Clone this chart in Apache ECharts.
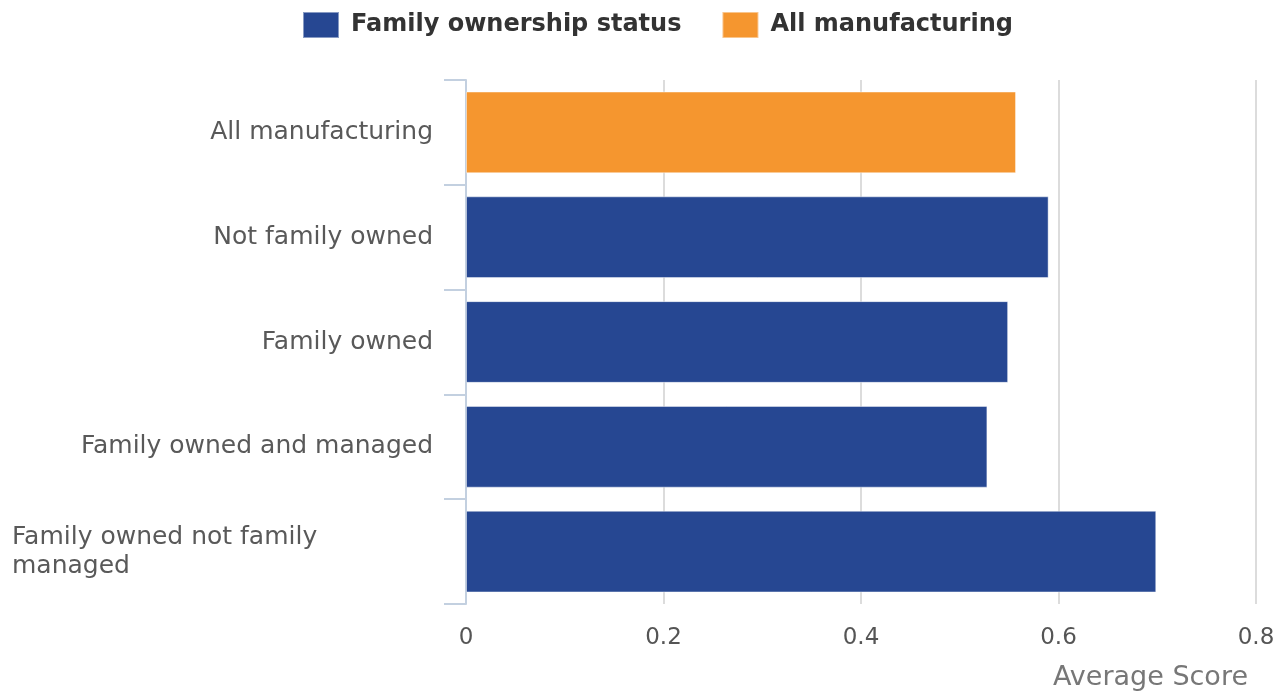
<!DOCTYPE html>
<html>
<head>
<meta charset="utf-8">
<script src="https://cdn.jsdelivr.net/npm/echarts@6/dist/echarts.min.js"></script>
<style>
  html, body { margin: 0; padding: 0; background: #ffffff; }
  #chart { width: 1284px; height: 693px; }
</style>
</head>
<body>
<div id="chart"></div>
<script>
// Categories, top to bottom
const categories = [
  'All manufacturing',
  'Not family owned',
  'Family owned',
  'Family owned and managed',
  'Family owned not family managed'
];
// Average score per category; the benchmark row is drawn in its own series
const ownershipValues = [null, 0.59, 0.549, 0.528, 0.699];
const benchmarkValues = [0.557, null, null, null, null];
const xTicks = [0, 0.2, 0.4, 0.6, 0.8];
const seriesNames = ['Family ownership status', 'All manufacturing'];
const axisTitle = 'Average Score';

const FONT = 'DejaVu Sans';
const BLUE = '#264792';
const ORANGE = '#f5962f';

// Break long category names onto two lines at a word boundary
function wrap(text, maxChars) {
  if (text.length <= maxChars) return null;
  const words = text.split(' ');
  let line = '';
  const lines = [];
  words.forEach(function (w) {
    if ((line + ' ' + w).trim().length > maxChars) {
      lines.push(line.trim());
      line = w;
    } else {
      line = (line + ' ' + w).trim();
    }
  });
  lines.push(line);
  return lines.join('\n');
}

const chart = echarts.init(document.getElementById('chart'), null, { renderer: 'canvas' });

chart.setOption({
  animation: false,
  backgroundColor: '#ffffff',
  legend: {
    top: 11,
    left: 302,
    padding: 0,
    itemWidth: 36,
    itemHeight: 26,
    itemGap: 40,
    icon: 'rect',
    textStyle: {
      fontFamily: FONT,
      fontSize: 24,
      fontWeight: 'bold',
      color: '#333333',
      padding: [0, 0, 0, 7]
    },
    data: seriesNames
  },
  grid: {
    left: 466,
    right: 28,
    top: 80,
    bottom: 89,
    containLabel: false
  },
  xAxis: {
    type: 'value',
    min: xTicks[0],
    max: xTicks[xTicks.length - 1],
    interval: xTicks[1] - xTicks[0],
    name: axisTitle,
    nameLocation: 'end',
    nameGap: 0,
    nameTextStyle: {
      fontFamily: FONT,
      fontSize: 27,
      color: '#777777',
      align: 'right',
      verticalAlign: 'top',
      padding: [60, 8, 0, 0]
    },
    axisLine: { show: false },
    axisTick: { show: false },
    axisLabel: {
      fontFamily: FONT,
      fontSize: 23,
      color: '#555555',
      margin: 23,
      formatter: function (v) { return String(+v.toFixed(1)); }
    },
    splitLine: {
      show: true,
      lineStyle: {
        color: ['#7a7a7a', '#dcdcdc', '#dcdcdc', '#dcdcdc', '#dcdcdc'],
        width: 2
      }
    }
  },
  yAxis: {
    type: 'category',
    inverse: true,
    data: categories,
    axisLine: { show: true, lineStyle: { color: '#c3d0e0', width: 2 } },
    axisTick: { show: true, length: 22, lineStyle: { color: '#c3d0e0', width: 2 } },
    axisLabel: {
      fontFamily: FONT,
      fontSize: 25,
      color: '#595959',
      margin: 33,
      formatter: function (v) {
        const w = wrap(v, 24);
        return w ? '{w|' + w + '}' : v;
      },
      rich: {
        w: {
          fontFamily: FONT,
          fontSize: 25,
          color: '#595959',
          width: 421,
          align: 'left',
          lineHeight: 29
        }
      }
    }
  },
  series: [
    {
      name: seriesNames[0],
      type: 'bar',
      stack: 'score',
      barCategoryGap: '22%',
      data: ownershipValues,
      itemStyle: { color: BLUE, borderColor: 'rgba(255,255,255,0.45)', borderWidth: 1 }
    },
    {
      name: seriesNames[1],
      type: 'bar',
      stack: 'score',
      barCategoryGap: '22%',
      data: benchmarkValues,
      itemStyle: { color: ORANGE, borderColor: 'rgba(255,255,255,0.45)', borderWidth: 1 }
    }
  ]
});
</script>
</body>
</html>
